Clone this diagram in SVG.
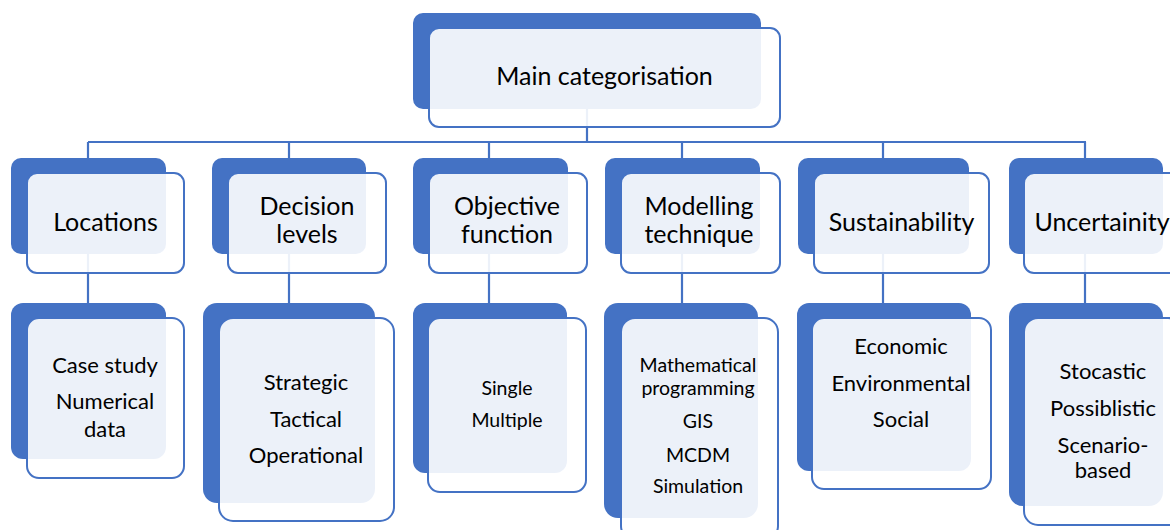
<svg xmlns="http://www.w3.org/2000/svg" width="1170" height="530" viewBox="0 0 1170 530">
<style>
.back{fill:#4472C4}
.front{fill:#FFFFFF;fill-opacity:0.9;stroke:#4472C4;stroke-width:2}
.conn{stroke:#4472C4;stroke-width:2.2;fill:none}
text{font-family:Lato,"Liberation Sans",sans-serif;fill:#000;text-anchor:middle}
.t1{font-size:25px}
.t2{font-size:22px}
.t3{font-size:19.5px}
</style>
<rect width="1170" height="530" fill="#FFFFFF"/>
<g id="connectors">
<path class="conn" d="M587,109 V142 M88,142 H1086 M88,142 V158 M289,142 V158 M489,142 V158 M682,142 V158 M883,142 V158 M1085,142 V158"/>
<path class="conn" d="M88,254 V303 M289,254 V303 M489,254 V303 M682,254 V303 M883,254 V303 M1085,254 V303"/>
</g>
<g id="main">
<rect class="back" x="413" y="13" width="348" height="96" rx="10"/>
<rect class="front" x="429" y="28" width="351" height="99" rx="10"/>
<text class="t1" x="604.5" y="85">Main categorisation</text>
</g>
<g id="locations">
<rect class="back" x="11" y="158" width="155" height="96" rx="10"/>
<rect class="front" x="27" y="173" width="157" height="100" rx="10"/>
<text class="t1" x="105.5" y="231">Locations</text>
</g>
<g id="decision">
<rect class="back" x="212" y="158" width="154" height="96" rx="10"/>
<rect class="front" x="228" y="173" width="158" height="100" rx="10"/>
<text class="t1" x="307" y="215">Decision</text>
<text class="t1" x="307" y="243">levels</text>
</g>
<g id="objective">
<rect class="back" x="413" y="158" width="155" height="96" rx="10"/>
<rect class="front" x="429" y="173" width="158" height="100" rx="10"/>
<text class="t1" x="507" y="215">Objective</text>
<text class="t1" x="507" y="243">function</text>
</g>
<g id="modelling">
<rect class="back" x="605" y="158" width="155" height="96" rx="10"/>
<rect class="front" x="621" y="173" width="159" height="100" rx="10"/>
<text class="t1" x="699" y="215">Modelling</text>
<text class="t1" x="699" y="243">technique</text>
</g>
<g id="sustainability">
<rect class="back" x="798" y="158" width="171" height="96" rx="10"/>
<rect class="front" x="814" y="173" width="175" height="100" rx="10"/>
<text class="t1" x="901.5" y="231">Sustainability</text>
</g>
<g id="uncertainity">
<rect class="back" x="1009" y="158" width="154" height="96" rx="10"/>
<rect class="front" x="1024" y="173" width="158" height="100" rx="10"/>
<text class="t1" x="1102" y="231">Uncertainity</text>
</g>
<g id="locations-sub">
<rect class="back" x="11" y="303" width="155" height="156" rx="12"/>
<rect class="front" x="27" y="318" width="157" height="160" rx="12"/>
<text class="t2" x="105" y="373">Case study</text>
<text class="t2" x="105" y="409">Numerical</text>
<text class="t2" x="105" y="437">data</text>
</g>
<g id="decision-sub">
<rect class="back" x="203" y="303" width="172" height="200" rx="14"/>
<rect class="front" x="219" y="318" width="175" height="203" rx="14"/>
<text class="t2" x="306" y="390">Strategic</text>
<text class="t2" x="306" y="427">Tactical</text>
<text class="t2" x="306" y="463">Operational</text>
</g>
<g id="objective-sub">
<rect class="back" x="413" y="303" width="154" height="170" rx="12"/>
<rect class="front" x="428" y="318" width="158" height="174" rx="12"/>
<text class="t3" x="507" y="395">Single</text>
<text class="t3" x="507" y="427">Multiple</text>
</g>
<g id="modelling-sub">
<rect class="back" x="604" y="303" width="154" height="215" rx="14"/>
<rect class="front" x="621" y="318" width="157" height="222" rx="14"/>
<text class="t3" x="698" y="372">Mathematical</text>
<text class="t3" x="698" y="395">programming</text>
<text class="t3" x="698" y="428">GIS</text>
<text class="t3" x="698" y="462">MCDM</text>
<text class="t3" x="698" y="493">Simulation</text>
</g>
<g id="sustainability-sub">
<rect class="back" x="797" y="303" width="174" height="168" rx="12"/>
<rect class="front" x="812" y="318" width="179" height="171" rx="12"/>
<text class="t2" x="901" y="354">Economic</text>
<text class="t2" x="901" y="391">Environmental</text>
<text class="t2" x="901" y="427">Social</text>
</g>
<g id="uncertainity-sub">
<rect class="back" x="1009" y="303" width="154" height="203" rx="14"/>
<rect class="front" x="1024" y="318" width="158" height="207" rx="14"/>
<text class="t2" x="1103" y="379">Stocastic</text>
<text class="t2" x="1103" y="416">Possiblistic</text>
<text class="t2" x="1103" y="453">Scenario-</text>
<text class="t2" x="1103" y="478">based</text>
</g>
</svg>
